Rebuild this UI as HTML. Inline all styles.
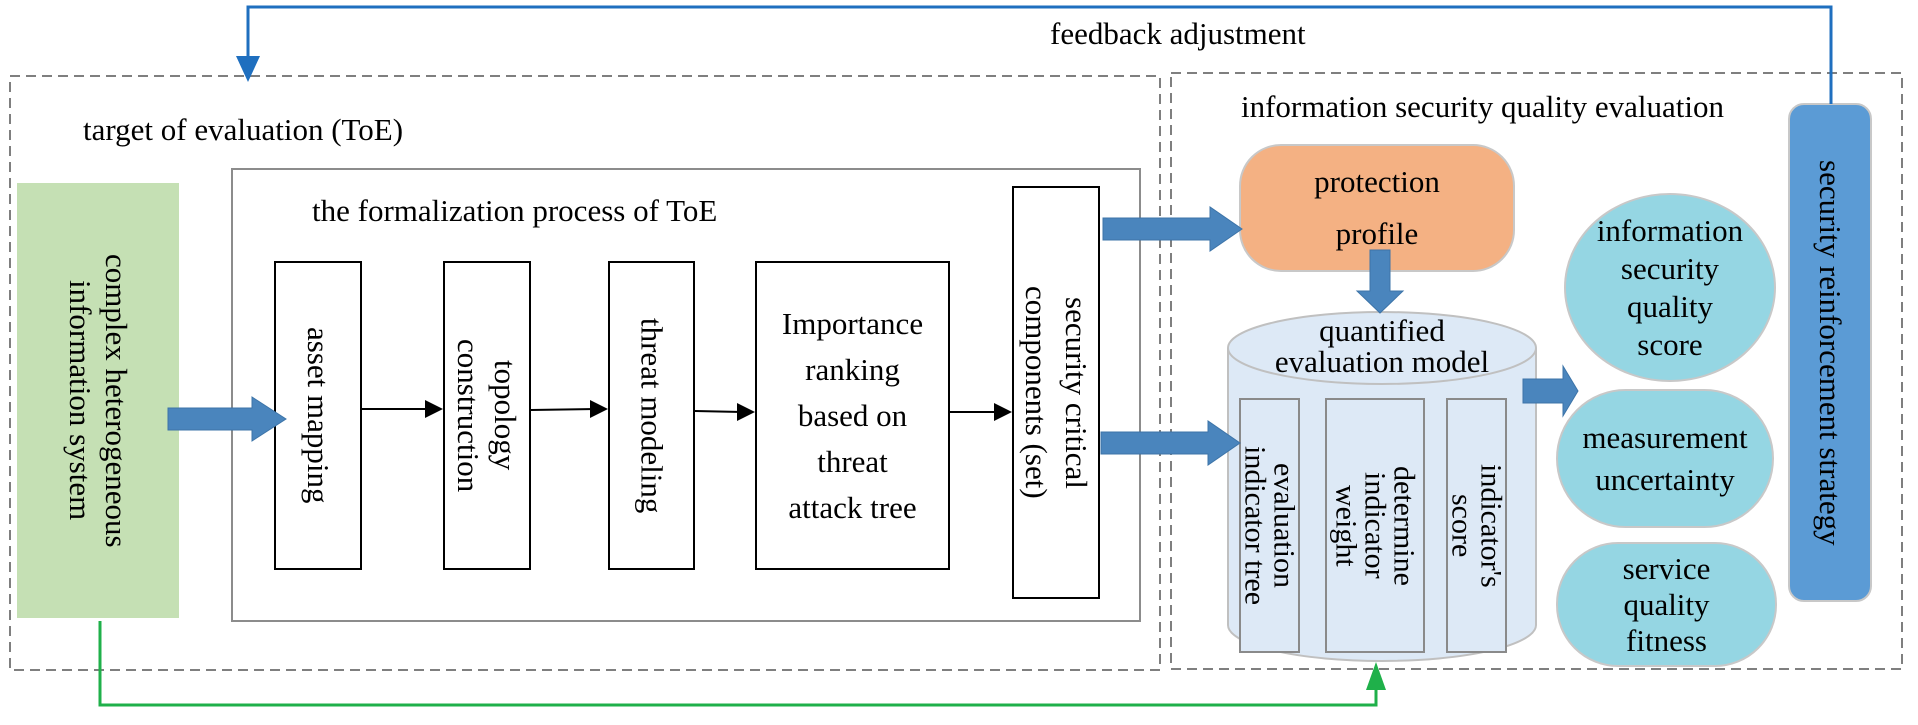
<!DOCTYPE html>
<html><head><meta charset="utf-8"><style>
html,body{margin:0;padding:0;background:#fff;}
body{width:1918px;height:725px;position:relative;overflow:hidden;font-family:"Liberation Serif",serif;color:#000;}
.a{position:absolute;box-sizing:border-box;}
.v{writing-mode:vertical-rl;display:flex;align-items:center;justify-content:center;text-align:center;}
.t{position:absolute;white-space:nowrap;font-size:31px;}
.c{display:flex;align-items:center;justify-content:center;text-align:center;}
</style></head><body>
<svg class="a" style="left:0;top:0" width="1918" height="725">
<rect x="10" y="76" width="1150" height="594" fill="none" stroke="#7f7f7f" stroke-width="2" stroke-dasharray="10,6"/>
<rect x="1171" y="73" width="731" height="596" fill="none" stroke="#7f7f7f" stroke-width="2" stroke-dasharray="10,6"/>
<rect x="232" y="169" width="908" height="452" fill="#fff" stroke="#8c8c8c" stroke-width="2"/>
<path d="M1228,348 L1228,625 A154,36 0 0 0 1536,625 L1536,348" fill="#dde9f6" stroke="#c0c0c0" stroke-width="2"/>
<ellipse cx="1382" cy="348" rx="154" ry="36" fill="#dde9f6" stroke="#c0c0c0" stroke-width="2"/>
</svg>
<div class="t" style="left:1050px;top:16px;">feedback adjustment</div>
<div class="t" style="left:83px;top:112px;">target of evaluation (ToE)</div>
<div class="t" style="left:1241px;top:89px;">information security quality evaluation</div>
<div class="t" style="left:312px;top:193px;">the formalization process of ToE</div>
<div class="a v" style="left:17px;top:183px;width:162px;height:435px;background:#c5e0b4;font-size:31px;line-height:36px;">complex heterogeneous<br>information system</div>
<div class="a v" style="left:274px;top:261px;width:88px;height:309px;border:2px solid #000;background:#fff;font-size:31px;">asset mapping</div>
<div class="a v" style="left:443px;top:261px;width:88px;height:309px;border:2px solid #000;background:#fff;font-size:31px;line-height:37px;">topology<br>construction</div>
<div class="a v" style="left:608px;top:261px;width:87px;height:309px;border:2px solid #000;background:#fff;font-size:31px;">threat modeling</div>
<div class="a c" style="left:755px;top:261px;width:195px;height:309px;border:2px solid #000;background:#fff;font-size:31px;line-height:46px;">Importance<br>ranking<br>based on<br>threat<br>attack tree</div>
<div class="a v" style="left:1012px;top:186px;width:88px;height:413px;border:2px solid #000;background:#fff;font-size:31px;line-height:40px;">security critical<br>components (set)</div>
<div class="a c" style="left:1239px;top:144px;width:276px;height:128px;border:2px solid #c8c8c8;border-radius:42px;background:#f4b183;font-size:31px;line-height:52px;">protection<br>profile</div>
<div class="a c" style="left:1240px;top:312px;width:284px;height:68px;font-size:31px;line-height:31px;">quantified<br>evaluation model</div>
<div class="a v" style="left:1239px;top:398px;width:61px;height:255px;border:2px solid #8a8a8a;background:#dde9f6;font-size:30px;line-height:29px;">evaluation<br>indicator tree</div>
<div class="a v" style="left:1325px;top:398px;width:100px;height:255px;border:2px solid #8a8a8a;background:#dde9f6;font-size:30px;line-height:29px;">determine<br>indicator<br>weight</div>
<div class="a v" style="left:1446px;top:398px;width:61px;height:255px;border:2px solid #8a8a8a;background:#dde9f6;font-size:30px;line-height:29px;">indicator's<br>score</div>
<div class="a c" style="left:1564px;top:193px;width:212px;height:189px;border:2px solid #c8c8c8;border-radius:50%;background:#95d6e3;font-size:31px;line-height:38px;">information<br>security<br>quality<br>score</div>
<div class="a c" style="left:1556px;top:389px;width:218px;height:139px;border:2px solid #c8c8c8;border-radius:70px;background:#95d6e3;font-size:31px;line-height:42px;">measurement<br>uncertainty</div>
<div class="a c" style="left:1556px;top:542px;width:221px;height:125px;border:2px solid #c8c8c8;border-radius:62px;background:#95d6e3;font-size:31px;line-height:36px;">service<br>quality<br>fitness</div>
<div class="a v" style="left:1788px;top:103px;width:84px;height:499px;border:2px solid #c8c8c8;border-radius:16px;background:#5b9bd5;font-size:31px;">security reinforcement strategy</div>
<svg class="a" style="left:0;top:0" width="1918" height="725">
<polyline points="1831,104 1831,7 248,7 248,60" fill="none" stroke="#1f6fbf" stroke-width="3"/>
<polygon points="236,56 260,56 248,82" fill="#1f6fbf"/>
<polyline points="100,621 100,705 1376,705 1376,680" fill="none" stroke="#1fb04a" stroke-width="3"/>
<polygon points="1366,690 1386,690 1376,662" fill="#1fb04a"/>
<g stroke="#000" stroke-width="2">
<line x1="362" y1="409" x2="430" y2="409"/>
<line x1="531" y1="410" x2="596" y2="409"/>
<line x1="695" y1="411" x2="742" y2="412"/>
<line x1="950" y1="412" x2="1000" y2="412"/>
</g>
<polygon points="443,409 425,400 425,418" fill="#000"/>
<polygon points="608,409 590,400 590,418" fill="#000"/>
<polygon points="755,412 737,403 737,421" fill="#000"/>
<polygon points="1012,412 994,403 994,421" fill="#000"/>
<g fill="#4a85bd" stroke="#3d74a8" stroke-width="1">
<polygon points="168,408 252,408 252,397 286,419 252,441 252,430 168,430"/>
<polygon points="1103,218 1210,218 1210,207 1242,229 1210,251 1210,240 1103,240"/>
<polygon points="1101,432 1208,432 1208,421 1240,443 1208,465 1208,454 1101,454"/>
<polygon points="1523,379 1563,379 1563,366 1578,391 1563,416 1563,403 1523,403"/>
<polygon points="1370,250 1390,250 1390,291 1403,291 1380,313 1357,291 1370,291"/>
</g>
</svg>
</body></html>
